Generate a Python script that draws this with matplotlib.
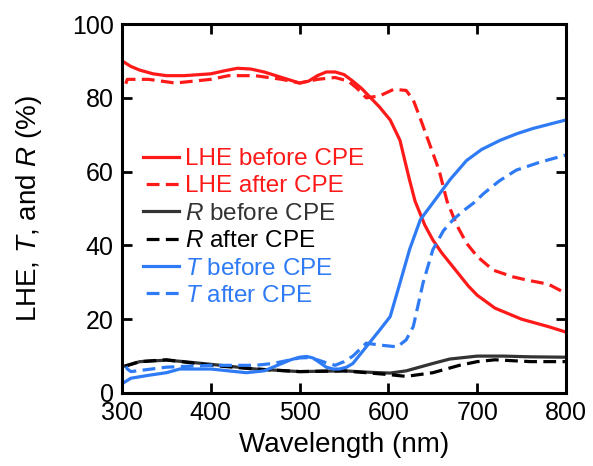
import matplotlib.pyplot as plt

plt.rcParams['font.family'] = ['Liberation Sans', 'DejaVu Sans']
plt.rcParams['mathtext.fontset'] = 'custom'
plt.rcParams['mathtext.it'] = 'Liberation Sans:italic'
plt.rcParams['mathtext.rm'] = 'Liberation Sans'

# LHE before / after CPE
lhe_b_x = [300, 310, 320, 335, 350, 370, 400, 415, 430, 445, 460, 480, 500, 510, 520, 530, 540,
           550, 560, 570, 580, 590, 602, 613, 623, 630, 641, 650, 660, 670, 680, 690, 700,
           720, 750, 780, 800]
lhe_b_y = [90, 88.5, 87.5, 86.5, 86, 86, 86.5, 87.3, 88, 87.8, 87, 85.5, 84, 84.5, 86, 87, 87,
           86.3, 84.5, 82.5, 80, 77.5, 74, 68.5, 58.5, 52, 45.5, 41.5, 38, 35, 32, 29, 26.5,
           23, 20, 18, 16.5]
lhe_a_x = [303, 306, 330, 360, 400, 420, 450, 480, 500, 520, 540, 555, 565, 575, 590, 606,
           620, 628, 635, 646, 657, 666, 677, 688, 700, 718, 740, 756, 780, 800]
lhe_a_y = [83, 85, 85, 84, 85, 86, 86, 85, 84, 85, 85.5, 84.5, 82.5, 80, 80.5, 82.3,
           82, 79.4, 75, 67.7, 60.4, 52, 45.5, 40.6, 37, 33.3, 31.5, 30.6, 29.5, 27]

# R before / after CPE
r_b_x = [300, 320, 350, 370, 407, 450, 500, 550, 580, 602, 620, 650, 669, 700, 730, 760, 800]
r_b_y = [7.1, 8.5, 8.9, 8.5, 7.6, 6.5, 5.8, 6, 5.6, 5.4, 6, 8, 9.2, 10, 10, 9.8, 9.7]
r_a_x = [300, 320, 350, 400, 450, 500, 550, 600, 620, 650, 680, 700, 720, 760, 800]
r_a_y = [7, 8.5, 9, 7.5, 6.5, 5.8, 6, 5, 4.5, 5.5, 7.5, 8.5, 9, 8.5, 8.5]

# T before / after CPE
t_b_x = [300, 310, 330, 350, 365, 400, 440, 460, 480, 490, 500, 508, 515, 523, 530, 538, 545,
         553, 560, 570, 580, 590, 602, 613, 624, 636, 650, 670, 688, 705, 726, 745, 763, 800]
t_b_y = [2.5, 4, 4.8, 5.5, 6.5, 6.5, 5.5, 6, 8, 9, 9.7, 9.9, 9.5, 8.2, 7, 6.5, 6.5,
         7, 8, 11, 14, 17, 20.7, 29.8, 39, 47, 51.5, 58, 63, 66, 68.5, 70.3, 71.7, 74]
t_a_x = [303, 306, 310, 350, 400, 450, 470, 490, 500, 510, 520, 530, 540, 550, 560, 575, 590,
         610, 620, 628, 639, 650, 662, 673, 685, 696, 707, 725, 744, 770, 800]
t_a_y = [8, 6.5, 5.8, 7, 7.5, 7.5, 8, 9, 9.5, 9.6, 9, 8.2, 7.5, 8.5, 10, 13.5, 13,
         12.5, 14.4, 18, 29.8, 38.8, 44, 47, 49.5, 51.5, 54, 57.5, 60.4, 62.5, 64.5]

red = '#ff1a1a'
blue = '#2f7bf5'
dash = (5, (4, 2))

fig = plt.figure(figsize=(5.93, 4.66), dpi=100)
ax = fig.add_axes([122 / 593, 1 - 393 / 466, 444 / 593, 369 / 466])

lw = 2.3
ax.plot(lhe_b_x, lhe_b_y, color=red, lw=lw, label='LHE before CPE')
ax.plot(lhe_a_x, lhe_a_y, color=red, lw=lw, ls=dash, label='LHE after CPE')
ax.plot(r_b_x, r_b_y, color='#333333', lw=lw, label='$R$ before CPE')
ax.plot(r_a_x, r_a_y, color='black', lw=lw, ls=dash, label='$R$ after CPE')
ax.plot(t_b_x, t_b_y, color=blue, lw=lw, label='$T$ before CPE')
ax.plot(t_a_x, t_a_y, color=blue, lw=lw, ls=dash, label='$T$ after CPE')

ax.set_xlim(300, 800)
ax.set_ylim(0, 100)
ax.set_xticks(range(300, 801, 100))
ax.set_yticks(range(0, 101, 20))
ax.tick_params(direction='in', length=7, width=2, labelsize=18, top=True, right=True, pad=6)
for s in ax.spines.values():
    s.set_linewidth(2.2)

ax.set_xlabel('Wavelength (nm)', fontsize=20, labelpad=5)
ax.set_ylabel('LHE, $T$, and $R$ (%)', fontsize=20, labelpad=20)

leg = ax.legend(loc='upper left', bbox_to_anchor=(0.025, 0.69), frameon=False, fontsize=17.5,
                handlelength=1.5, handletextpad=0.25, labelspacing=0.22, borderaxespad=0.0)
for line, text in zip(leg.get_lines(), leg.get_texts()):
    text.set_color(line.get_color())

fig.savefig('out.png', dpi=100)
